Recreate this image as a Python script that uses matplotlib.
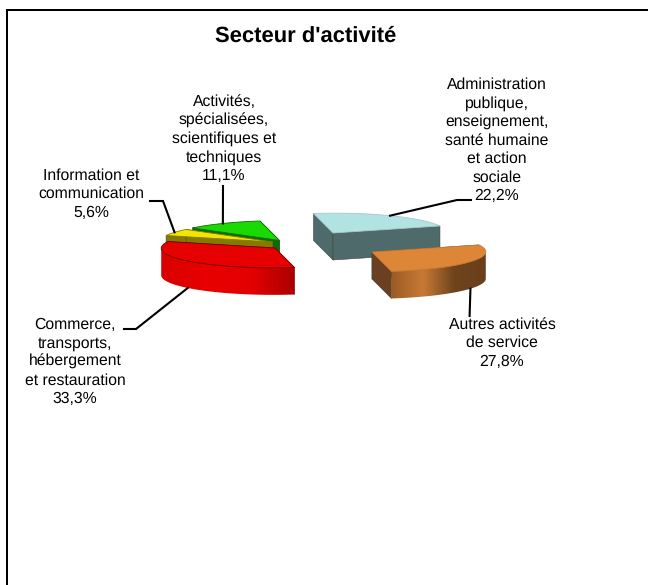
import numpy as np
from matplotlib import pyplot as plt
from matplotlib.colors import LinearSegmentedColormap
from matplotlib.patches import Polygon

plt.rcParams['font.family'] = ['Liberation Sans', 'DejaVu Sans']
plt.rcParams['text.hinting'] = 'no_hinting'

# Donnees du graphique
labels = ['Administration\npublique,\nenseignement,\nsanté humaine\net action\nsociale',
          'Autres activités\nde service',
          'Commerce,\ntransports,\nhébergement\net restauration',
          'Information et\ncommunication',
          'Activités,\nspécialisées,\nscientifiques et\ntechniques']
shares = [22.2, 27.8, 33.3, 5.6, 11.1]
share_text = ['22,2%', '27,8%', '33,3%', '5,6%', '11,1%']

# Couleurs
top_colors = ['#b2e3e3', '#dd8638', '#e60000', '#f2e600', '#19d900']
top_edges = ['#a8c8c8', '#c87a35', '#700000', '#857a00', '#0a6e00']
side_colors = ['#4f6a6a', '#6b4020', '#b00000', '#857a00', '#0a6e00']
wall_colors = [['#5c7878', '#4f6a6a'],
               ['#9a5a25', '#c87a35', '#6f431c', '#6b3f1a'],
               ['#d80000', '#e80000', '#e40000', '#aa0000'],
               ['#857a00', '#857a00'],
               ['#0a6e00', '#0a6e00']]

# Mise en page (pixels de l'image)
apex = [(333, 233), (372, 252), (275, 248), (273, 242), (279.5, 240.5)]
draw_order = [4, 3, 2, 0, 1]
axis_a = np.array([-19.5, -19.5])
axis_b = np.array([112.1, -3.7])
depth = 27
label_xy = [(497, 77), (502, 317), (75, 317), (91, 168), (224, 94)]
knees = [[(457, 200), (471, 200)],
         [(469.6, 316)],
         [(136, 329), (124, 329)],
         [(163, 201), (150, 201)],
         [(223, 186)]]
# ancre: 0 = arc du dessus, 1 = arc du bas
anchor_low = [0, 1, 1, 0, 0]

fig = plt.figure(figsize=(6.48, 5.85), dpi=100)
ax = fig.add_axes([0, 0, 1, 1])
ax.axis('off')


def rim(t):
    t = np.radians(t)
    return np.outer(np.cos(t), axis_a) + np.outer(np.sin(t), axis_b)


angles = np.cumsum([0] + shares)
angles = angles * 360 / angles[-1]

z = 2
for i in draw_order:
    c = np.array(apex[i])
    t = np.linspace(angles[i], angles[i + 1], 160)
    arc = c + rim(t)
    low = arc + [0, depth]
    # faces radiales
    for p in (arc[0], arc[-1]):
        face = [c, p, p + [0, depth], c + [0, depth]]
        ax.add_patch(Polygon(face, closed=True, fc=side_colors[i], ec='#444444', lw=0.4, zorder=z))
    # paroi exterieure: seulement la partie qui va vers la gauche est devant
    front = np.nonzero(arc[1:, 0] < arc[:-1, 0])[0]
    if len(front):
        z += 1
        cmap = LinearSegmentedColormap.from_list('w', wall_colors[i])
        up = arc[front[0]:front[-1] + 2]
        down = low[front[0]:front[-1] + 2]
        wall = Polygon(np.vstack([up, down[::-1]]), closed=True, transform=ax.transData, fc='none', ec='none')
        ax.add_patch(wall)
        x1, x0 = up[0, 0], up[-1, 0]
        ramp = np.linspace(0, 1, 256).reshape(1, -1)
        im = ax.imshow(ramp, cmap=cmap, extent=(x0, x1, up[:, 1].max() + depth + 2, up[:, 1].min() - 2),
                       aspect='auto', zorder=z)
        im.set_clip_path(wall)
    z += 1
    # dessus
    top = np.vstack([c, arc])
    ax.add_patch(Polygon(top, closed=True, fc=top_colors[i], ec=top_edges[i], lw=0.6, zorder=z))
    z += 1

ax.set_xlim(0, 648)
ax.set_ylim(585, 0)

for i in range(len(shares)):
    mid = (angles[i] + angles[i + 1]) / 2
    start = np.array(apex[i]) + rim(np.array([mid]))[0] + [0, depth * anchor_low[i]]
    pts = np.vstack([start, knees[i]])
    ax.plot(pts[:, 0], pts[:, 1], color='black', lw=1.5, solid_joinstyle='miter', zorder=z)
    ax.text(label_xy[i][0], label_xy[i][1], labels[i] + '\n' + share_text[i], ha='center', va='top',
            fontsize=11.3, linespacing=1.32, color='black', zorder=z + 1)

ax.text(306, 36, "Secteur d'activité", ha='center', va='center', fontsize=15.8, fontweight='bold')

# Cadre
ax.plot([7, 7], [585, 10], color='black', lw=1.44, solid_capstyle='butt')
ax.plot([6, 648], [10, 10], color='black', lw=1.44, solid_capstyle='butt')

fig.savefig('out.png', dpi=100)
